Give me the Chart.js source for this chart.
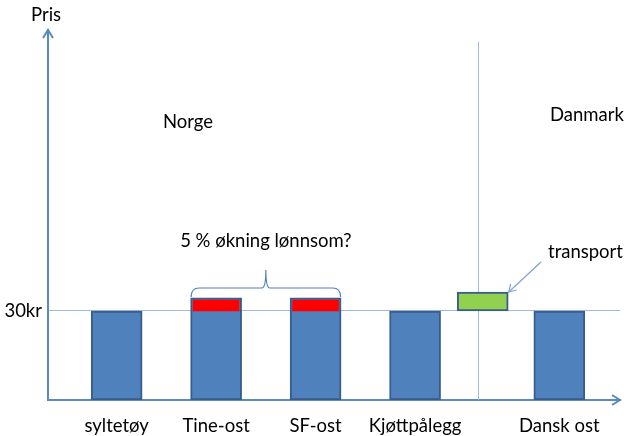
<!DOCTYPE html>
<html>
<head>
<meta charset="utf-8">
<script src="https://cdn.jsdelivr.net/npm/chart.js@4"></script>
<style>
  html, body { margin: 0; padding: 0; background: #fff; }
  #wrap { width: 627px; height: 436px; }
</style>
</head>
<body>
<div id="wrap"><canvas id="chart"></canvas></div>
<script>
// Chart data
const categories = ['syltetøy', 'Tine-ost', 'SF-ost', 'Kjøttpålegg', 'Dansk ost'];
const slots = [1, 2, 3, 4, 5.45];
const basePrice = [30, 30, 30, 30, 30];
const raise = [0, 4.4, 4.4, 0, 0];
const raiseCapTop = [null, 33.7, 33.7, null, null];
const transportSlot = 4.68;
const transportCost = 6.4;
const borderSlot = 4.63;
const yTicks = [30];

const FONT = 'Lato, "Open Sans", sans-serif';
const FSIZE = 18.5;
const AXIS = '#5A8AC6';
const THIN = '#9DBBE0';

const barData = slots.map((x, i) => ({ x: x, y: basePrice[i] + raise[i] }));
const capData = slots.map((x, i) => raiseCapTop[i] == null ? null : { x: x, y: [basePrice[i], raiseCapTop[i]] }).filter(d => d);
const transportData = [{ x: transportSlot, y: [basePrice[3], basePrice[3] + transportCost] }];

// extra drawing: separator, brace, arrows, text
const extras = {
    id: 'extras',
    beforeDatasetsDraw(chart) {
        const { ctx, scales: { x, y } } = chart;
        ctx.save();
        ctx.strokeStyle = THIN;
        ctx.lineWidth = 1;
        const lx = Math.round(x.getPixelForValue(borderSlot)) + 0.5;
        ctx.beginPath();
        ctx.moveTo(lx, y.getPixelForValue(120.7));
        ctx.lineTo(lx, y.bottom);
        ctx.stroke();
        ctx.restore();
    },
    afterDraw(chart) {
        const { ctx, chartArea: a, scales: { x, y } } = chart;
        ctx.save();
        // axis arrow heads
        ctx.strokeStyle = AXIS;
        ctx.lineWidth = 2;
        ctx.beginPath();
        ctx.moveTo(a.left - 5, a.top + 8);
        ctx.lineTo(a.left, a.top);
        ctx.lineTo(a.left + 5, a.top + 8);
        ctx.moveTo(a.right - 8, a.bottom - 5);
        ctx.lineTo(a.right, a.bottom);
        ctx.lineTo(a.right - 8, a.bottom + 5);
        ctx.stroke();

        // brace over the two cheeses
        const bl = x.getPixelForValue(slots[1]) - 25;
        const br = x.getPixelForValue(slots[2]) + 25;
        const bm = (bl + br) / 2;
        const by = 288;
        ctx.strokeStyle = '#4F81BD';
        ctx.lineWidth = 1.2;
        ctx.beginPath();
        ctx.moveTo(bl, by + 9);
        ctx.quadraticCurveTo(bl, by, bl + 8, by);
        ctx.lineTo(bm - 4, by);
        ctx.quadraticCurveTo(bm, by, bm, by - 18);
        ctx.quadraticCurveTo(bm, by, bm + 4, by);
        ctx.lineTo(br - 8, by);
        ctx.quadraticCurveTo(br, by, br, by + 9);
        ctx.stroke();

        // transport callout arrow
        const tx = x.getPixelForValue(transportSlot) + 25;
        const ty = y.getPixelForValue(basePrice[3] + transportCost);
        ctx.strokeStyle = '#7FA3D3';
        ctx.lineWidth = 1.2;
        ctx.beginPath();
        ctx.moveTo(541, 262);
        ctx.lineTo(tx + 1, ty);
        ctx.stroke();
        ctx.beginPath();
        ctx.moveTo(tx + 1 + 2, ty - 8);
        ctx.lineTo(tx + 1, ty);
        ctx.lineTo(tx + 1 + 8, ty - 2);
        ctx.stroke();

        // text
        ctx.fillStyle = '#000';
        ctx.font = FSIZE + 'px ' + FONT;
        ctx.textBaseline = 'middle';
        ctx.textAlign = 'left';
        ctx.fillText('Pris', 31, 15);
        ctx.fillText('Norge', 163, 122);
        ctx.fillText('Danmark', 550, 115);
        ctx.fillText('transport', 548, 252);
        ctx.textAlign = 'center';
        ctx.fillText('5 % økning lønnsom?', bm, 241);
        ctx.restore();
    }
};

new Chart(document.getElementById('chart'), {
    type: 'bar',
    data: {
        datasets: [
            {
                label: 'økning',
                data: capData,
                backgroundColor: '#FF0000',
                borderWidth: 0,
                barThickness: 46,
                grouped: false,
                order: 0
            },
            {
                label: 'transport',
                data: transportData,
                backgroundColor: '#92D050',
                borderColor: '#385D8A',
                borderWidth: 2,
                borderSkipped: false,
                barThickness: 51,
                grouped: false,
                order: 1
            },
            {
                label: 'pris',
                data: barData,
                backgroundColor: '#4F81BD',
                borderColor: '#385D8A',
                borderWidth: 2,
                borderSkipped: false,
                barThickness: 51,
                grouped: false,
                order: 2
            }
        ]
    },
    options: {
        responsive: true,
        maintainAspectRatio: false,
        animation: false,
        layout: { padding: { top: 30, right: 7, left: 0, bottom: 0 } },
        plugins: { legend: { display: false }, tooltip: { enabled: false } },
        scales: {
            x: {
                type: 'linear',
                offset: false,
                min: 0.31,
                max: 6.06,
                afterBuildTicks: scale => { scale.ticks = slots.map(v => ({ value: v })); },
                afterFit: scale => { scale.height = 36; },
                ticks: {
                    autoSkip: false,
                    maxRotation: 0,
                    padding: 15,
                    color: '#000',
                    font: { family: FONT, size: FSIZE },
                    callback: v => categories[slots.indexOf(v)]
                },
                grid: { display: false, drawTicks: false, offset: false },
                border: { display: true, color: AXIS, width: 2 }
            },
            y: {
                min: 0,
                max: 124.7,
                afterBuildTicks: scale => { scale.ticks = yTicks.map(v => ({ value: v })); },
                afterFit: scale => { scale.width = 48; },
                ticks: {
                    padding: 6,
                    color: '#000',
                    font: { family: FONT, size: FSIZE },
                    callback: v => v + 'kr'
                },
                grid: { color: THIN, lineWidth: 1, drawTicks: false },
                border: { display: true, color: AXIS, width: 2 }
            }
        }
    },
    plugins: [extras]
});
</script>
</body>
</html>
